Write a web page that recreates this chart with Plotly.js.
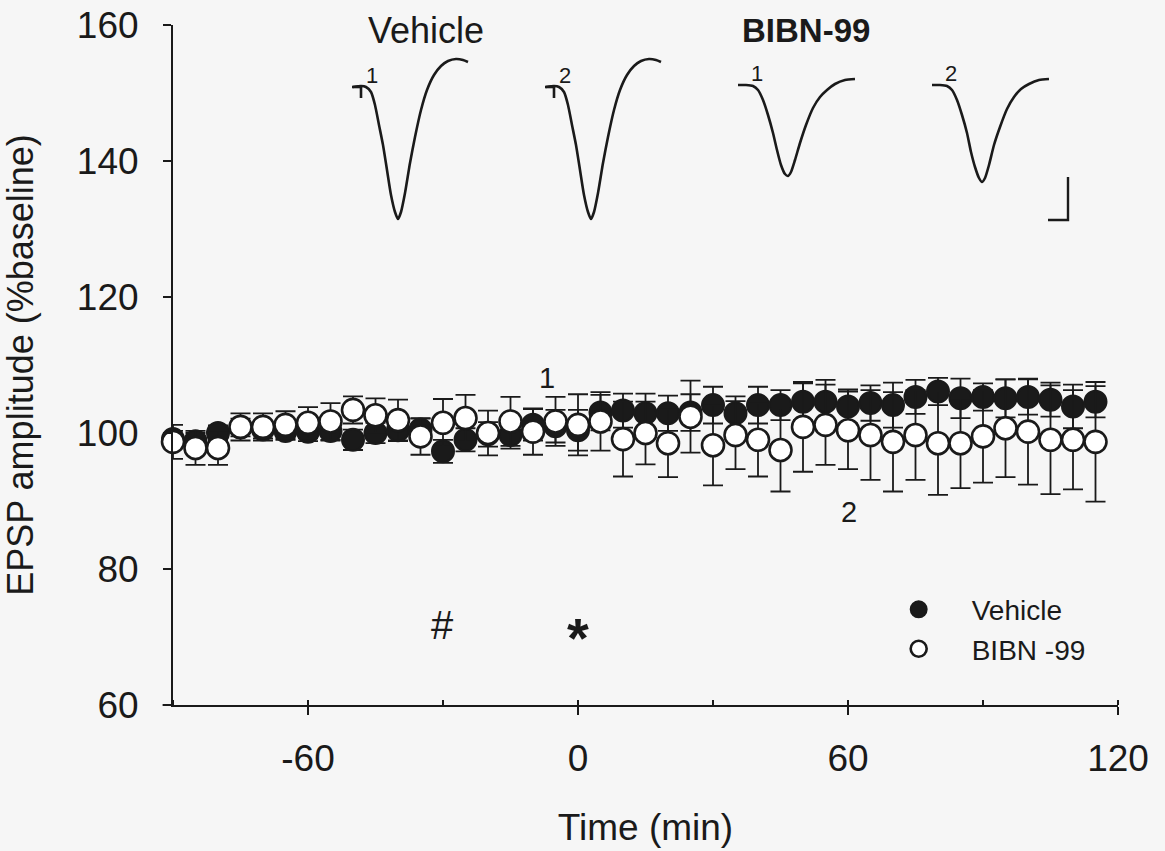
<!DOCTYPE html>
<html><head><meta charset="utf-8">
<script src="https://cdn.plot.ly/plotly-3.0.1.min.js"></script>
<style>html,body{margin:0;padding:0;background:#f6f6f6}#chart{width:1165px;height:851px}</style>
</head><body><div id="chart"></div>
<script>
// ---- main data (time in min, EPSP amplitude in % baseline, mean and SEM) ----
const timeMin = [-90,-85,-80,-75,-70,-65,-60,-55,-50,-45,-40,-35,-30,-25,-20,-15,-10,-5,0,5,10,15,20,25,30,35,40,45,50,55,60,65,70,75,80,85,90,95,100,105,110,115];
const vehicleMean = [99.1,98.8,100,100.8,100.5,100.3,100.2,100.3,99,100,100.4,100.5,97.3,99,99.8,99.7,101.2,101,100.4,103,103.3,102.9,102.9,103,104.1,102.9,104.1,104.1,104.6,104.6,103.9,104.4,104.1,105.3,106.1,105.1,105.3,105.1,105.3,104.9,103.9,104.6];
const vehicleSem = [1.2,1.2,1.1,1.3,1.3,1.3,1.4,1.4,1.5,1.5,1.6,1.6,1.7,1.7,1.8,2,2.3,2.4,3,2.6,2.5,2.9,2.6,2.7,2.7,2.5,2.7,2.2,2.7,3.2,2.5,2.6,3.3,2.5,2,2.9,2,2.8,2.6,2.5,3.2,2.3];
const bibnMean = [98.7,97.8,97.8,100.9,100.9,101.2,101.5,101.7,103.4,102.6,101.9,99.5,101.5,102.2,100,101.7,100.2,101.7,101.2,101.7,99.1,100,98.5,102.4,98.2,99.7,99,97.5,100.9,101.2,100.4,99.7,98.7,99.7,98.5,98.5,99.5,100.7,100.2,99,99,98.7];
const bibnSem = [2.5,2.5,2.5,2,2,2,2.3,2.7,2,2.5,3,2.7,3.5,3.4,3.3,3.6,3.4,3.6,4.5,4.3,5.5,4.6,5,5.3,5.9,5,5.4,6.1,6.6,5.9,5.7,6.6,7.3,6.6,7.6,6.6,6.8,7.2,7.8,8,7.3,8.8];
const seriesNames = ["Vehicle", "BIBN -99"];
const xTickVals = [-60, 0, 60, 120];
const xTickText = ["-60", "0", "60", "120"];
const yTickVals = [60, 80, 100, 120, 140, 160];

// ---- inset example sweeps (inset frame units) ----
const vehSweepT = [0,8,13,18,22,26,30,34,38,42,45,48,52,57,62,68,74,81,88,95,103,110,115];
const vehSweepV = [0,1,0,-5,-18,-38,-58,-83,-108,-125,-132,-125,-106,-76,-50,-23,-3,12,21,26,28,27,25];
const bibnSweepT = [0,8,15,20,25,30,35,39,43,47,50,53,57,62,68,75,82,89,97,107,117];
const bibnSweep1V = [0,0,-1,-5,-15,-30,-48,-65,-80,-89,-91,-87,-75,-58,-40,-23,-12,-5,1,5,6];
const bibnSweep2V = [0,0,-1,-5,-15,-30,-48,-67,-82,-93,-97,-93,-80,-60,-42,-24,-12,-4,1,5,6];
const artifactT = [-1,9,null,8,8];
const artifactV = [0,0,null,0,-11];
const sweepStartsX = [180, 373, 565, 759];
const sweepStartsY = [618, 618, 620, 620];
const sweepLabels = ["1", "2", "1", "2"];
const scaleBarCorner = [895, 485];
const scaleBarV = 43, scaleBarH = 20;

const ink = '#1a1a1a';
const font = 'Arial, "Liberation Sans", Helvetica, sans-serif';

function sweep(t, v, x0, y0, extraT, extraV) {
  const xs = t.map(d => x0 + d), ys = v.map(d => y0 + d);
  if (extraT) {
    xs.push(null); ys.push(null);
    extraT.forEach((d, i) => { xs.push(d === null ? null : x0 + d); ys.push(extraV[i] === null ? null : y0 + extraV[i]); });
  }
  return {x: xs, y: ys, xaxis: 'x2', yaxis: 'y2', mode: 'lines', line: {color: ink, width: 2.6, shape: 'spline', smoothing: 0.6}, showlegend: false, hoverinfo: 'skip', cliponaxis: false};
}

const traces = [
  {x: timeMin, y: vehicleMean, name: seriesNames[0], mode: 'markers', legendgroup: 'a', cliponaxis: false,
   marker: {symbol: 'circle', size: 22, color: ink, line: {color: ink, width: 2}},
   error_y: {type: 'data', array: vehicleSem, visible: true, color: ink, thickness: 1.8, width: 10}},
  {x: timeMin, y: bibnMean, name: seriesNames[1], mode: 'markers', legendgroup: 'b', cliponaxis: false,
   marker: {symbol: 'circle', size: 22, color: '#ffffff', line: {color: ink, width: 2.6}},
   error_y: {type: 'data', array: bibnSem, visible: true, color: ink, thickness: 1.8, width: 10}},
  sweep(vehSweepT, vehSweepV, sweepStartsX[0], sweepStartsY[0], artifactT, artifactV),
  sweep(vehSweepT, vehSweepV, sweepStartsX[1], sweepStartsY[1], artifactT, artifactV),
  sweep(bibnSweepT, bibnSweep1V, sweepStartsX[2], sweepStartsY[2]),
  sweep(bibnSweepT, bibnSweep2V, sweepStartsX[3], sweepStartsY[3]),
  {x: [scaleBarCorner[0], scaleBarCorner[0], scaleBarCorner[0] - scaleBarH],
   y: [scaleBarCorner[1] + scaleBarV, scaleBarCorner[1], scaleBarCorner[1]],
   xaxis: 'x2', yaxis: 'y2', mode: 'lines', line: {color: ink, width: 2.4}, showlegend: false, hoverinfo: 'skip'}
];

const annotations = [
  {x: -33.8, y: 159.2, xref: 'x', yref: 'y', text: 'Vehicle', showarrow: false, font: {size: 36, color: ink}},
  {x: 50.7, y: 159.2, xref: 'x', yref: 'y', text: '<b>BIBN-99</b>', showarrow: false, font: {size: 33, color: ink}},
  {x: -7, y: 108.1, xref: 'x', yref: 'y', text: '1', showarrow: false, font: {size: 29, color: ink}},
  {x: 60.2, y: 88.4, xref: 'x', yref: 'y', text: '2', showarrow: false, font: {size: 29, color: ink}},
  {x: -30.2, y: 71.8, xref: 'x', yref: 'y', text: '#', showarrow: false, font: {size: 40, color: ink}},
  {x: 0, y: 70.0, xref: 'x', yref: 'y', text: '<b>*</b>', showarrow: false, font: {size: 56, color: ink}}
];
sweepLabels.forEach((t, i) => {
  annotations.push({x: sweepStartsX[i] + 19, y: sweepStartsY[i] + 12, xref: 'x2', yref: 'y2', text: t,
    showarrow: false, font: {size: 22, color: ink}});
});

const layout = {
  width: 1165, height: 851,
  margin: {l: 173, r: 47, t: 25, b: 146},
  paper_bgcolor: '#f6f6f6', plot_bgcolor: '#f6f6f6',
  font: {family: font, color: ink},
  showlegend: true,
  legend: {x: 0.733, y: 0.177, xanchor: 'left', yanchor: 'top', bgcolor: 'rgba(0,0,0,0)',
           font: {size: 28, color: ink}, traceorder: 'grouped', tracegroupgap: 0, itemwidth: 96},
  xaxis: {range: [-90, 120], tickvals: xTickVals, ticktext: xTickText, ticks: 'outside', ticklen: 8, tickwidth: 2, tickcolor: ink,
          showline: true, linecolor: ink, linewidth: 2, showgrid: false, zeroline: false, ticklabelstandoff: 12,
          tickfont: {size: 37, color: ink},
          minor: {dtick: 30, tick0: 0, ticks: 'inside', ticklen: 5, tickwidth: 2, tickcolor: ink, showgrid: false},
          title: {text: 'Time (min)', font: {size: 37, color: ink}, standoff: 36}},
  yaxis: {range: [60, 160], tickvals: yTickVals, ticks: 'outside', ticklen: 8, tickwidth: 2, tickcolor: ink,
          showline: true, linecolor: ink, linewidth: 2, showgrid: false, zeroline: false, ticklabelstandoff: 17,
          tickfont: {size: 37, color: ink},
          title: {text: 'EPSP amplitude (%baseline)', font: {size: 36, color: ink}, standoff: 37}},
  xaxis2: {overlaying: 'x', anchor: 'y2', range: [0, 945], visible: false, fixedrange: true},
  yaxis2: {overlaying: 'y', anchor: 'x2', range: [0, 680], visible: false, fixedrange: true},
  shapes: [{type: 'line', xref: 'paper', yref: 'paper', x0: -0.011, x1: 0, y0: 0, y1: 0, line: {color: ink, width: 2}}],
  annotations: annotations
};

Plotly.newPlot('chart', traces, layout, {staticPlot: true});
</script></body></html>
